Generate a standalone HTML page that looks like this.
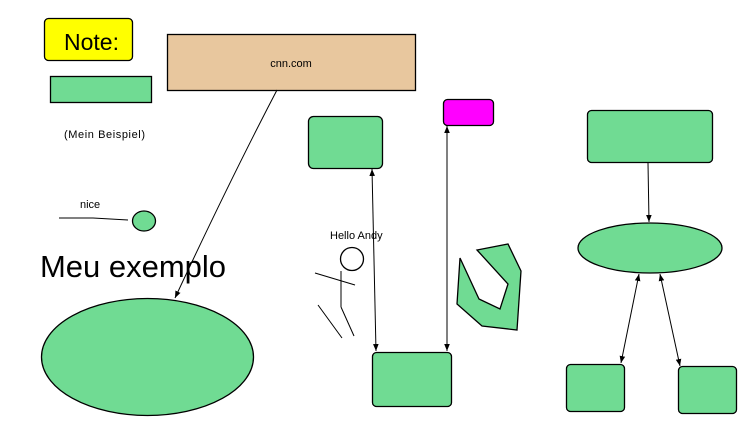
<!DOCTYPE html>
<html><head><meta charset="utf-8"><style>
html,body{margin:0;padding:0;background:#fff;width:747px;height:427px;overflow:hidden}
svg{display:block}
text{font-family:"Liberation Sans",sans-serif;fill:#000}
</style></head><body>
<svg width="747" height="427" viewBox="0 0 747 427" xmlns="http://www.w3.org/2000/svg">
<defs>
<marker id="a" viewBox="0 0 10 10" refX="10" refY="5" markerWidth="7" markerHeight="7" orient="auto-start-reverse" markerUnits="userSpaceOnUse">
<path d="M0,1 L10,5 L0,9 z" fill="#000"/></marker>
</defs>
<g stroke="#000" stroke-width="1.3">
<rect x="44.5" y="18.5" width="88" height="42" rx="4" fill="#ffff00"/>
<rect x="50.5" y="76.5" width="101" height="26" fill="#70db93"/>
<rect x="167.5" y="34.5" width="248" height="56" fill="#e8c79e"/>
<rect x="308.5" y="116.5" width="74" height="52" rx="5" fill="#70db93"/>
<rect x="443.5" y="99.5" width="50" height="26" rx="4" fill="#ff00ff"/>
<rect x="372.5" y="352.5" width="79" height="54" rx="4" fill="#70db93"/>
<rect x="587.5" y="110.5" width="125" height="52" rx="4" fill="#70db93"/>
<ellipse cx="650" cy="248" rx="72" ry="25" fill="#70db93"/>
<rect x="566.5" y="364.5" width="58" height="47" rx="4" fill="#70db93"/>
<rect x="678.5" y="366.5" width="58" height="47" rx="4" fill="#70db93"/>
<ellipse cx="147.5" cy="357" rx="106" ry="58.5" fill="#70db93"/>
<ellipse cx="144" cy="221" rx="11.5" ry="10" fill="#70db93"/>
<polygon points="460,258 457,304 482,326 517,330 521,271 508,244 477,250 508,284 500,309 479,299" fill="#70db93"/>
<circle cx="352" cy="259" r="11.5" fill="none"/>
</g>
<g stroke="#000" stroke-width="1" fill="none">
<path d="M59,218 L93,218 L128,220"/>
<path d="M277,90 Q230,180 175,298" marker-end="url(#a)"/>
<line x1="372" y1="169" x2="376" y2="351" marker-start="url(#a)" marker-end="url(#a)"/>
<line x1="447" y1="126" x2="447" y2="351" marker-start="url(#a)" marker-end="url(#a)"/>
<line x1="648" y1="163" x2="649" y2="222" marker-end="url(#a)"/>
<line x1="639" y1="274" x2="621" y2="363" marker-start="url(#a)" marker-end="url(#a)"/>
<line x1="660" y1="274" x2="680" y2="366" marker-start="url(#a)" marker-end="url(#a)"/>
<line x1="341" y1="271" x2="341" y2="307"/>
<line x1="315" y1="273" x2="355" y2="285"/>
<line x1="341" y1="307" x2="354" y2="336"/>
<line x1="318" y1="305" x2="342" y2="338"/>
</g>
<text x="64" y="50" font-size="23">Note:</text>
<text x="291" y="67" font-size="11" text-anchor="middle">cnn.com</text>
<text x="64" y="138" font-size="11" textLength="81">(Mein Beispiel)</text>
<text x="80" y="208" font-size="11">nice</text>
<text x="330" y="239" font-size="11">Hello Andy</text>
<text x="40" y="277" font-size="31" textLength="186">Meu exemplo</text>
</svg>
</body></html>
